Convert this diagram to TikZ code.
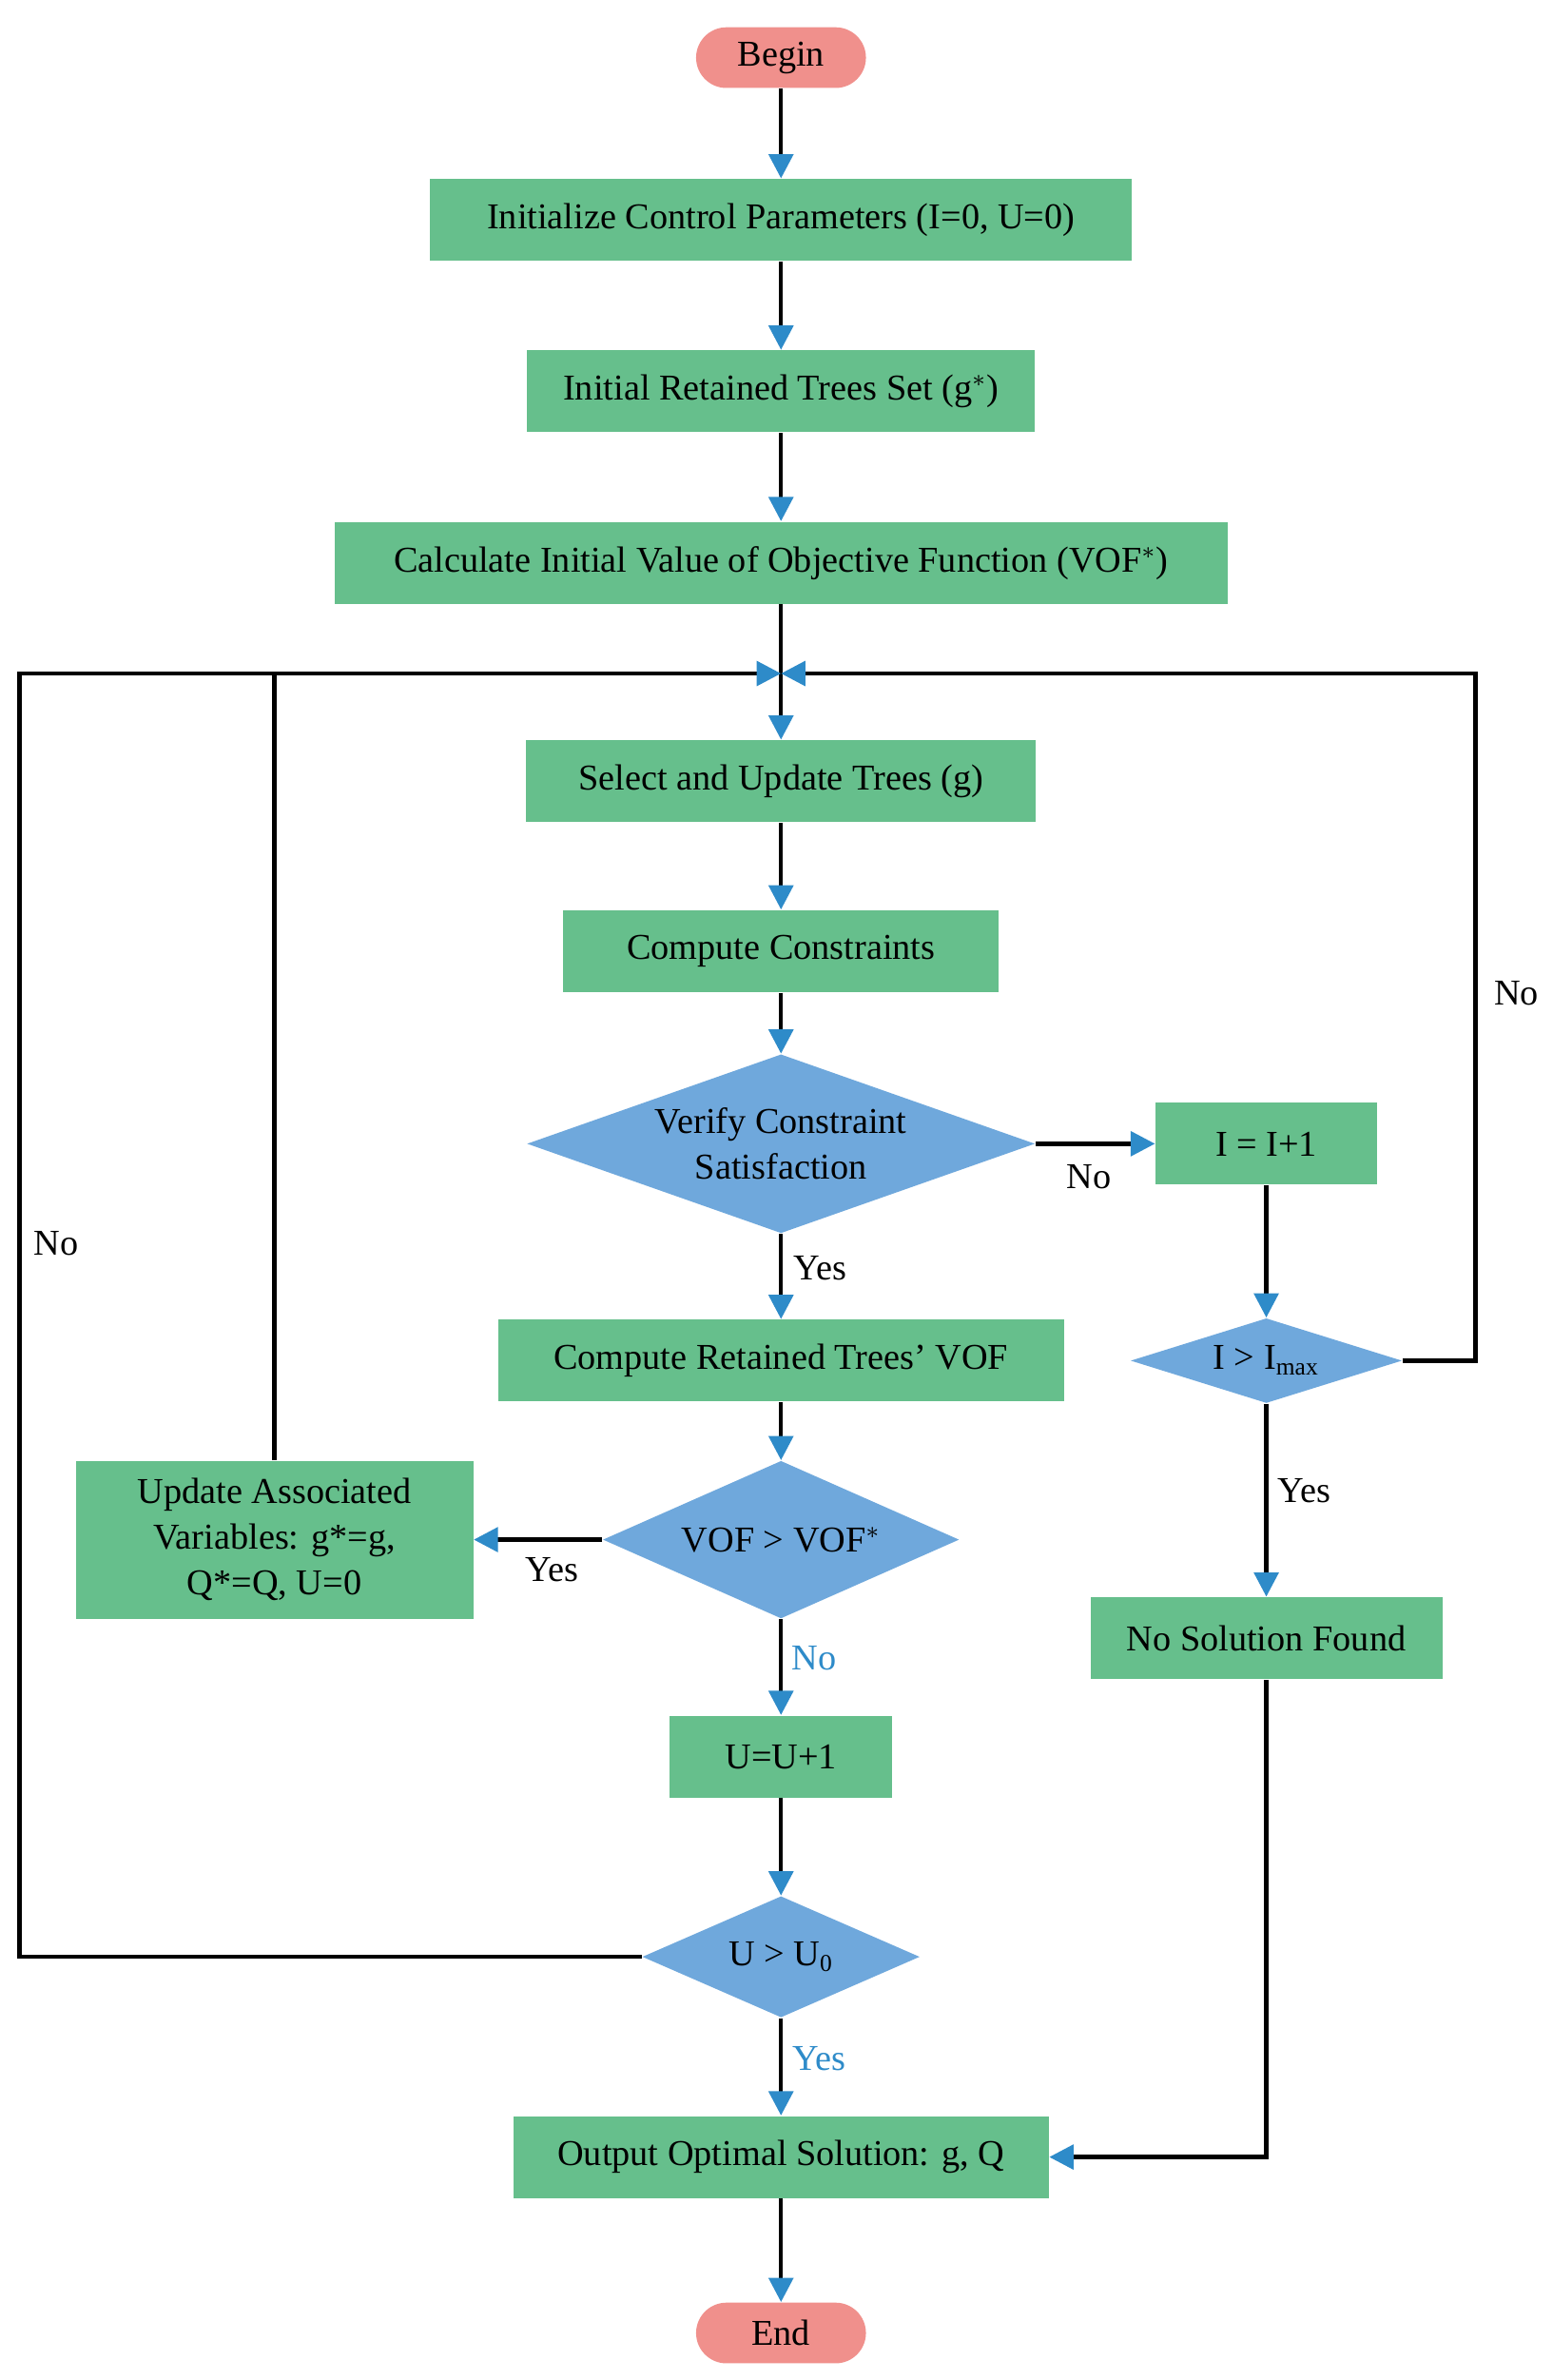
\documentclass[tikz,border=0pt]{standalone}
\usepackage{fontspec}
\setmainfont{Liberation Serif}
\usetikzlibrary{shapes.geometric,arrows.meta}
\definecolor{gr}{HTML}{66BF8C}
\definecolor{bl}{HTML}{6FA8DC}
\definecolor{pk}{HTML}{F0908C}
\definecolor{ar}{HTML}{2E8BC9}
\begin{document}
\begin{tikzpicture}[x=0.5pt,y=-0.5pt,
 font=\fontsize{12}{15}\selectfont,
 box/.style={fill=gr,draw=none,minimum height=27pt,align=center,inner sep=2pt},
 pill/.style={fill=pk,rounded corners=10pt,minimum width=56pt,minimum height=20pt},
 dia/.style={diamond,fill=bl,inner sep=0pt},
 ln/.style={line width=1.4pt},
 ar/.style={ln,-{Triangle[color=ar,length=8pt,width=8pt]}},
 lab/.style={font=\fontsize{12}{14}\selectfont}]
\fill[white] (0,0) rectangle (1024,1569);
\node[pill] (b) at (515,38) {Begin};
\node[box,minimum width=231.5pt] (i) at (515,145) {Initialize Control Parameters (I=0, U=0)};
\node[box,minimum width=167.5pt] (r) at (515,258) {Initial Retained Trees Set (g$^{*}$)};
\node[box,minimum width=294.5pt] (c) at (515,371) {Calculate Initial Value of Objective Function (VOF$^{*}$)};
\coordinate (m) at (515,444);
\node[box,minimum width=168pt] (s) at (515,515) {Select and Update Trees (g)};
\node[box,minimum width=143.5pt] (cc) at (515,627) {Compute Constraints};
\node[dia,minimum width=167.5pt,minimum height=59pt] (v) at (515,754) {};
\node[align=center] at (v) {Verify Constraint\\Satisfaction};
\node[box,minimum width=73pt] (ii) at (835,754) {I = I+1};
\node[dia,minimum width=89.5pt,minimum height=28pt] (im) at (835,897) {};
\node at (im) {I > I\textsubscript{max}};
\node[box,minimum width=186.5pt] (cv) at (515,897) {Compute Retained Trees' VOF};
\node[dia,minimum width=117.5pt,minimum height=52pt] (vv) at (515,1015) {};
\node at (vv) {VOF > VOF$^{*}$};
\node[box,minimum width=131pt,minimum height=52pt] (up) at (181,1015) {Update Associated\\Variables: g*=g,\\Q*=Q, U=0};
\node[box,minimum width=73.5pt] (uu) at (515,1158) {U=U+1};
\node[dia,minimum width=91.5pt,minimum height=40pt] (u0) at (515,1290) {};
\node at (u0) {U > U\textsubscript{0}};
\node[box,minimum width=116pt] (ns) at (835,1080) {No Solution Found};
\node[box,minimum width=176.5pt] (o) at (515,1422) {Output Optimal Solution: g, Q};
\node[pill] (e) at (515,1538) {End};
\draw[ar] (b)--(i); \draw[ar] (i)--(r); \draw[ar] (r)--(c);
\draw[ar] (c)--(s); \draw[ar] (s)--(cc); \draw[ar] (cc)--(v);
\draw[ar] (v)--(cv); \draw[ar] (v)--(ii); \draw[ar] (ii)--(im);
\draw[ar] (im)--(ns); \draw[ar] (cv)--(vv); \draw[ar] (vv)--(up);
\draw[ar] (vv)--(uu); \draw[ar] (uu)--(u0); \draw[ar] (u0)--(o);
\draw[ar] (o)--(e);
\draw[ar] (ns.south) |- (o.east);
\draw[ar] (u0.west) -- (13,1290) -- (13,444) -- (m);
\draw[ln] (up.north) -- (181,444);
\draw[ar] (im.east) -- (973,897) -- (973,444) -- (m);
\node[lab] at (1000,655) {No};
\node[lab] at (37,820) {No};
\node[lab] at (718,776) {No};
\node[lab] at (541,836) {Yes};
\node[lab] at (860,983) {Yes};
\node[lab] at (364,1035) {Yes};
\node[lab,text=ar] at (537,1093) {No};
\node[lab,text=ar] at (540,1357) {Yes};
\end{tikzpicture}
\end{document}
